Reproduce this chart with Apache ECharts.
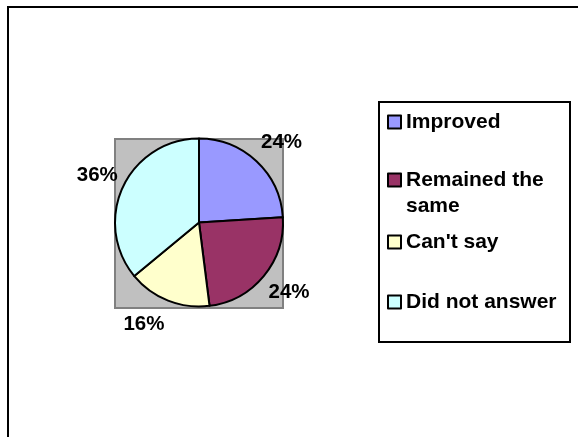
<!DOCTYPE html>
<html>
<head>
<meta charset="utf-8">
<script src="https://cdn.jsdelivr.net/npm/echarts@6/dist/echarts.min.js"></script>
<style>
html,body{margin:0;padding:0;background:#fff;}
#chart{width:578px;height:437px;}
</style>
</head>
<body>
<div id="chart"></div>
<script>
var categories = ["Improved", "Remained the same", "Can't say", "Did not answer"];
var values = [24, 24, 16, 36];
var legendLabels = ["Improved", " \nRemained the\nsame", "Can't say", "Did not answer"];
var colors = ["#9999FF", "#993366", "#FFFFCC", "#CCFFFF"];

var CX = 199, CY = 222.5, R = 84;
var FONT = "'Liberation Sans', Arial, sans-serif";

var total = values.reduce(function (a, b) { return a + b; }, 0);
function midAngle(i) {
  var before = 0;
  for (var k = 0; k < i; k++) before += values[k];
  return ((before + values[i] / 2) / total) * 2 * Math.PI;
}

var legendTops = [109, 141, 229, 289];
var legends = categories.map(function (name, i) {
  return {
    data: [name],
    left: 387,
    top: legendTops[i],
    orient: 'vertical',
    padding: 0,
    itemWidth: 13,
    itemHeight: 13,
    icon: 'rect',
    selectedMode: false,
    itemStyle: { borderColor: '#000', borderWidth: 2 },
    formatter: function () { return legendLabels[i]; },
    textStyle: {
      fontFamily: FONT, fontSize: 21, fontWeight: 'bold', color: '#000',
      lineHeight: 26
    }
  };
});

var chart = echarts.init(document.getElementById('chart'));
chart.setOption({
  backgroundColor: '#fff',
  animation: false,
  color: colors,
  graphic: [
    { type: 'rect', z: 0, shape: { x: 8, y: 7, width: 620, height: 480 },
      style: { fill: 'none', stroke: '#000', lineWidth: 2 } },
    { type: 'rect', z: 0, shape: { x: 115, y: 139, width: 168, height: 169 },
      style: { fill: '#C0C0C0', stroke: '#808080', lineWidth: 2 } },
    { type: 'rect', z: 0, shape: { x: 379, y: 102, width: 191, height: 240 },
      style: { fill: '#fff', stroke: '#000', lineWidth: 2 } }
  ],
  legend: legends,
  series: [{
    type: 'pie',
    center: [CX, CY],
    radius: R,
    startAngle: 90,
    clockwise: true,
    silent: true,
    itemStyle: { borderColor: '#000', borderWidth: 2 },
    label: {
      show: true,
      position: 'outside',
      formatter: '{d}%',
      fontFamily: FONT, fontSize: 20.5, fontWeight: 'bold', color: '#000'
    },
    labelLine: { show: false },
    labelLayout: function (p) {
      var a = midAngle(p.dataIndex);
      var s = Math.sin(a), c = Math.cos(a);
      var hw = p.labelRect.width / 2 + 2.5;
      return {
        x: CX + (R + 3) * s + (s >= 0 ? hw : -hw),
        y: CY - (R + 26) * c,
        align: 'center',
        verticalAlign: 'middle'
      };
    },
    data: categories.map(function (c, i) { return { name: c, value: values[i] }; })
  }]
});
</script>
</body>
</html>
